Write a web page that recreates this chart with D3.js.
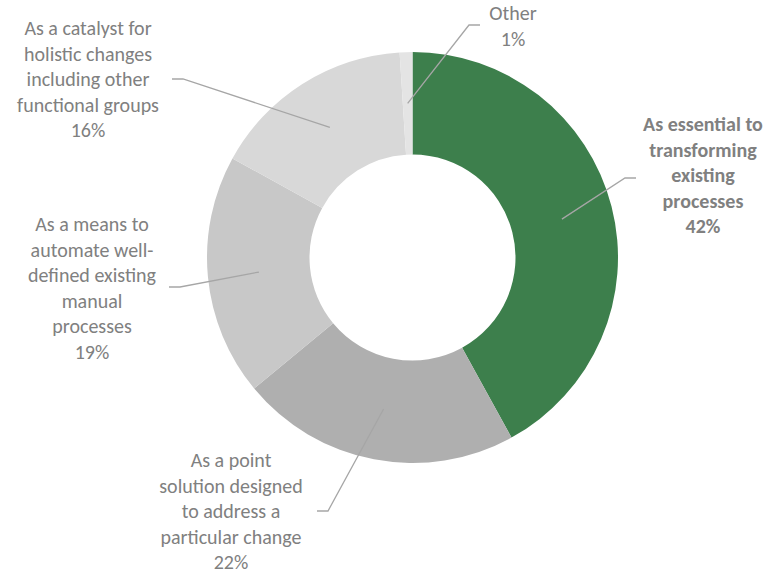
<!DOCTYPE html>
<html>
<head>
<meta charset="utf-8">
<script src="https://cdn.jsdelivr.net/npm/d3@7.9.0/dist/d3.min.js"></script>
<style>
  html, body { margin: 0; padding: 0; background: #fff; }
  svg { display: block; }
  .lbl { font-family: Carlito, Calibri, Lato, sans-serif; font-size: 20px; fill: #808080; }
  .lbl.bold { font-weight: bold; }
</style>
</head>
<body>
<svg id="chart" width="775" height="574"></svg>
<script>
// ---- data ----
const categories = [
  'As essential to transforming existing processes',
  'As a point solution designed to address a particular change',
  'As a means to automate well-defined existing manual processes',
  'As a catalyst for holistic changes including other functional groups',
  'Other'
];
const values = [42, 22, 19, 16, 1];
// label text as it wraps in the picture
const labelLines = [
  ['As essential to', 'transforming', 'existing', 'processes'],
  ['As a point', 'solution designed', 'to address a', 'particular change'],
  ['As a means to', 'automate well-', 'defined existing', 'manual', 'processes'],
  ['As a catalyst for', 'holistic changes', 'including other', 'functional groups'],
  ['Other']
];
const sliceColors = ['#3d7f4c', '#afafaf', '#c8c8c8', '#d8d8d8', '#e4e4e4'];

// ---- layout ----
const W = 775, H = 574;
const cx = 412.5, cy = 257.5;
const outerR = 205.5, innerR = 103;
const lineH = 25.6;
// where each label block sits and where its leader elbows (manual placement, like the original)
const labelLayout = [
  { x: 703, y: 131, ex: 625, ey: 178, dir: 1, bold: true },
  { x: 231, y: 467, ex: 328, ey: 511, dir: -1 },
  { x: 92,  y: 231, ex: 180, ey: 287, dir: -1 },
  { x: 88,  y: 35,  ex: 183, ey: 79,  dir: -1 },
  { x: 513, y: 20,  ex: 469, ey: 25,  dir: 1 }
];

const svg = d3.select('#chart');
const g = svg.append('g').attr('transform', `translate(${cx},${cy})`);

const data = categories.map((c, i) => ({ name: c, value: values[i], i }));
const pie = d3.pie().value(d => d.value).sort(null);
const arc = d3.arc().innerRadius(innerR).outerRadius(outerR);
const arcs = pie(data);

g.selectAll('path.slice')
  .data(arcs)
  .join('path')
  .attr('class', 'slice')
  .attr('d', arc)
  .attr('fill', d => sliceColors[d.data.i]);

// leader lines: centroid -> elbow -> short horizontal run toward label
arcs.forEach(d => {
  const L = labelLayout[d.data.i];
  const [px, py] = arc.centroid(d);
  const pts = [[px + cx, py + cy], [L.ex, L.ey], [L.ex + L.dir * 11, L.ey]];
  svg.append('path')
    .attr('d', d3.line()(pts))
    .attr('fill', 'none')
    .attr('stroke', '#a6a6a6')
    .attr('stroke-width', 1.3);
});

// labels
arcs.forEach(d => {
  const L = labelLayout[d.data.i];
  const lines = labelLines[d.data.i].concat([d3.format('.0f')(d.data.value) + '%']);
  const t = svg.append('text')
    .attr('class', 'lbl' + (L.bold ? ' bold' : ''))
    .attr('text-anchor', 'middle');
  lines.forEach((s, k) => {
    t.append('tspan').attr('x', L.x).attr('y', L.y + k * lineH).text(s);
  });
});
</script>
</body>
</html>
